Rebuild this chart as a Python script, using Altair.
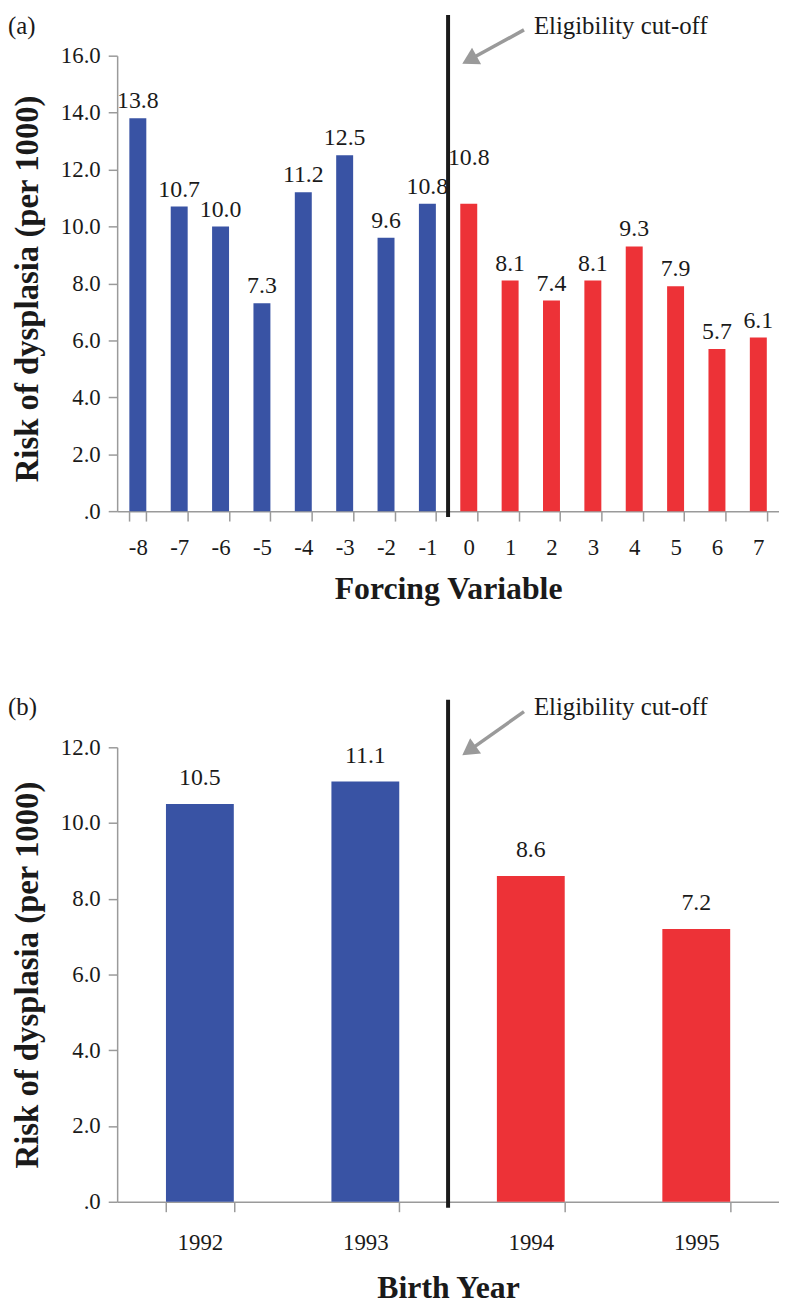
import math
import altair as alt
import pandas as pd

# ---- data ----
forcing = ["-8", "-7", "-6", "-5", "-4", "-3", "-2", "-1", "0", "1", "2", "3", "4", "5", "6", "7"]
risk_a = [13.8, 10.7, 10.0, 7.3, 11.2, 12.5, 9.6, 10.8, 10.8, 8.1, 7.4, 8.1, 9.3, 7.9, 5.7, 6.1]
group_a = ["before", "before", "before", "before", "before", "before", "before", "before",
           "after", "after", "after", "after", "after", "after", "after", "after"]
years = ["1992", "1993", "1994", "1995"]
risk_b = [10.5, 11.1, 8.6, 7.2]
group_b = ["before", "before", "after", "after"]

BLUE = "#3953a4"
RED = "#ed3237"
GRAY = "#9a9a9a"
INK = "#1a1a1a"
SERIF = "'Liberation Serif', 'Times New Roman', Times, serif"
W = 667
PI = 0.59
PO = PI / 2


def panel(cats, vals, grps, ymax, height, x_title, tag, cut_cat, text_y, line_top,
          arrow_y0, label_dy, xlab_pad, xtitle_y, ytitle_shift, raised=None, raised_dy=None):
    df = pd.DataFrame({"cat": cats, "risk": vals, "grp": grps})
    xs = alt.Scale(paddingInner=PI, paddingOuter=PO)
    x = alt.X("cat:N", sort=cats, scale=xs,
              axis=alt.Axis(title=x_title, labelAngle=0, tickBand="extent",
                            domainColor=GRAY, tickColor=GRAY, tickSize=10, domainWidth=1.5,
                            tickWidth=1.5,
                            labelFont=SERIF, labelFontSize=23, labelColor=INK,
                            labelBaseline="middle", labelPadding=xlab_pad,
                            titleFont=SERIF, titleFontSize=32, titleFontWeight="bold",
                            titleColor=INK, titleY=xtitle_y, titleBaseline="middle"))
    y = alt.Y("risk:Q", scale=alt.Scale(domain=[0, ymax], nice=False),
              axis=alt.Axis(values=list(range(0, ymax + 1, 2)),
                            labelExpr="datum.value == 0 ? '.0' : format(datum.value, '.1f')",
                            title="Risk of dysplasia (per 1000)", grid=False,
                            domainColor=GRAY, tickColor=GRAY, tickSize=9, domainWidth=1.5,
                            tickWidth=1.5,
                            labelFont=SERIF, labelFontSize=23, labelColor=INK, labelPadding=8,
                            titleFont=SERIF, titleFontSize=33, titleFontWeight="bold",
                            titleColor=INK, titleX=-80, titleY=height / 2 + ytitle_shift,
                            titleBaseline="alphabetic", titleAlign="center"))
    color = alt.Color("grp:N", scale=alt.Scale(domain=["before", "after"], range=[BLUE, RED]),
                      legend=None)
    base = alt.Chart(df).encode(x=x)
    bars = base.mark_bar().encode(y=y, color=color)
    lab_src = base if raised is None else base.transform_filter(alt.datum.cat != raised)
    labels = lab_src.mark_text(dy=label_dy, baseline="alphabetic", font=SERIF, fontSize=24,
                               color=INK).encode(y="risk:Q", text=alt.Text("risk:Q", format=".1f"))
    layers = [bars, labels]
    if raised is not None:
        layers.append(base.transform_filter(alt.datum.cat == raised)
                      .mark_text(dy=raised_dy, baseline="alphabetic", font=SERIF, fontSize=24,
                                 color=INK)
                      .encode(y="risk:Q", text=alt.Text("risk:Q", format=".1f")))
    dummy = alt.Chart(pd.DataFrame({"d": [0]}))
    # cut-off line on the band boundary after cut_cat
    cut_x = W * (cats.index(cut_cat) + 1) / len(cats)
    layers.append(dummy.mark_rule(color=INK, strokeWidth=4).encode(
        x=alt.value(cut_x), y=alt.value(line_top), y2=alt.value(height + 6)))
    # arrow
    x0, tipx, tipy = 410, 348, 8
    dx, dy = tipx - x0, tipy - arrow_y0
    L = math.hypot(dx, dy)
    ux, uy = dx / L, dy / L
    ang = math.degrees(math.atan2(ux, -uy)) % 360
    cx, cy = tipx - ux * 8, tipy - uy * 8
    layers.append(dummy.mark_rule(color=GRAY, strokeWidth=3.5).encode(
        x=alt.value(x0), x2=alt.value(cx), y=alt.value(arrow_y0), y2=alt.value(cy)))
    layers.append(dummy.mark_point(shape="triangle-up", filled=True, size=360, angle=ang,
                                   color=GRAY, opacity=1).encode(
        x=alt.value(cx), y=alt.value(cy)))
    layers.append(dummy.mark_text(align="left", baseline="middle", font=SERIF, fontSize=25,
                                  color=INK).encode(
        x=alt.value(420), y=alt.value(text_y), text=alt.value("Eligibility cut-off")))
    layers.append(dummy.mark_text(align="left", baseline="middle", font=SERIF, fontSize=25,
                                  color=INK).encode(
        x=alt.value(-110), y=alt.value(text_y), text=alt.value(tag)))
    return alt.layer(*layers).properties(width=W, height=height)


pa = panel(forcing, risk_a, group_a, 16, 459, "Forcing Variable", "(a)", "-1",
           text_y=-30, line_top=-41, arrow_y0=-26, label_dy=-10, xlab_pad=27, xtitle_y=78,
           ytitle_shift=5, raised="0", raised_dy=-39)
pb = panel(years, risk_b, group_b, 12, 458, "Birth Year", "(b)", "1993",
           text_y=-41, line_top=-48, arrow_y0=-36, label_dy=-19, xlab_pad=31, xtitle_y=86,
           ytitle_shift=0)

chart = alt.vconcat(pa, pb, spacing=91).properties(padding=0).configure_view(stroke=None)
chart.save("out.html", embed_options={"renderer": "svg", "actions": False})
